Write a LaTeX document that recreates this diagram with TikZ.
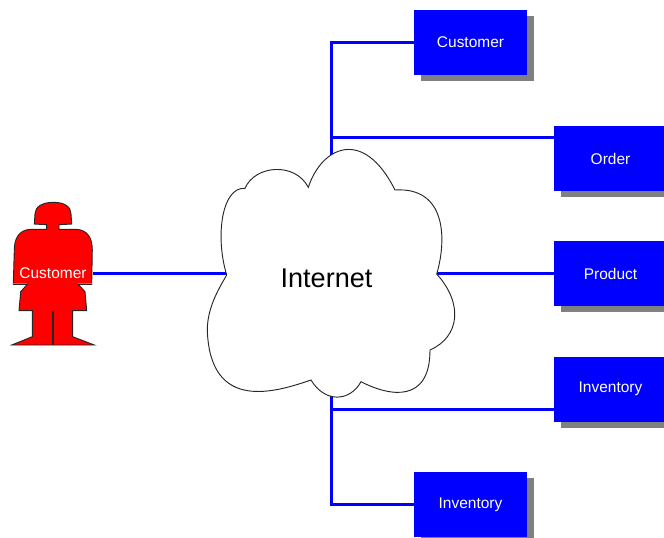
\documentclass[tikz,border=0pt]{standalone}
\usepackage{fontspec}
\setmainfont{Liberation Sans}
\usetikzlibrary{shadows}
\tikzset{
    dbbox/.style = {rectangle, fill=blue, text=white, font=\fontsize{11.6}{14}\selectfont,
        minimum height=48.75pt, minimum width=84.75pt, align=center,
        drop shadow={shadow xshift=5.25pt, shadow yshift=-4.5pt, fill=black!50, opacity=1}},
    link/.style = {draw=blue, line width=2.25pt},
    outline/.style = {draw=black!85, line width=0.7pt}
}
\def\cloudshape{%
    .. controls (215,236.7) and (221.7,186.7) .. (245,188.3)
    .. controls (255,165) and (295,161.7) .. (308.3,187.3)
    .. controls (321.7,146.7) and (363.3,126.7) .. (395,190)
    .. controls (446.7,186.7) and (446.7,240) .. (436.7,274)
    .. controls (463.3,303.3) and (460,336.7) .. (430,350)
    .. controls (430,403.3) and (390,396.7) .. (361,381.7)
    .. controls (350,401.7) and (325,403.3) .. (311,380)
    .. controls (276.7,391.7) and (210,413.3) .. (207.3,330)
    .. controls (207.3,306.7) and (220,286.7) .. (226.7,275) -- cycle
}
\def\personshape{%
    .. controls (42,202.3) and (35,207) .. (35,214) -- (34.3,224) -- (46.7,224.7) -- (46.7,229.3)
    -- (31.7,229.3) .. controls (18,229.3) and (14.3,240) .. (14.3,250) -- (13.3,284.3)
    -- (27.3,284.3) -- (20.7,291.7) -- (19,310.7) -- (32.3,310.7) -- (32.3,336.7) -- (11.7,345)
    -- (94.3,345) -- (72.7,336.7) -- (72.7,310.7) -- (86.7,310.7) -- (85,291.7) -- (78.3,284.3)
    -- (91.7,284.3) -- (92.3,250) .. controls (92.3,240) and (89,229.3) .. (75,229.3)
    -- (59,229.3) -- (59,224.7) -- (71.7,224) -- (71,214) .. controls (71,207) and (65,202.3) .. (53.3,202.3) -- cycle
}
\begin{document}
\begin{tikzpicture}[x=0.75pt, y=-0.75pt, node distance=86.5pt]
    \clip (0,0) rectangle (664,537);
    \node [dbbox] (custdb) at (470.5,42.5) {Customer};
    \node [dbbox] (orderdb) at (610.5,158.5) {Order};
    \node [dbbox, below of=orderdb] (productdb) {Product};
    \node [dbbox, below of=productdb] (stockdb) {Inventory};
    \node [dbbox] (stocklow) at (470.5,504.5) {Inventory};
    % ends of the lines on the cloud
    \coordinate (cloudn) at (331,157);
    \coordinate (clouds) at (331,396);
    \coordinate (cloudw) at (228,273);
    \coordinate (cloude) at (437,273);
    \coordinate (orderjoin) at (331,137);
    \coordinate (stockjoin) at (331,409);
    \coordinate (persone) at (93,273);
    \draw [link] (custdb) -| (cloudn);
    \draw [link] (orderjoin) -- (orderjoin -| orderdb.west);
    \draw [link] (cloude) -- (cloude -| productdb.west);
    \draw [link] (stockjoin) -- (stockjoin -| stockdb.west);
    \draw [link] (stocklow) -| (clouds);
    \draw [link] (persone) -- (cloudw);
    \draw [outline, fill=white] (226.7,275) \cloudshape;
    \node [font=\fontsize{20.3}{24}\selectfont] (internet) at (326.5,278) {Internet};
    % person
    \draw [outline, fill=red] (53.3,202.3) \personshape;
    \draw [outline, line width=1pt] (53,310.7) -- (53,345);
    \draw [draw=black!50, line width=0.9pt] (13.3,283.5) -- (27.3,283.5) (78.3,283.5) -- (91.7,283.5);
    \node [text=white, font=\fontsize{11.6}{14}\selectfont] (person) at (53,273.5) {Customer};
\end{tikzpicture}
\end{document}
